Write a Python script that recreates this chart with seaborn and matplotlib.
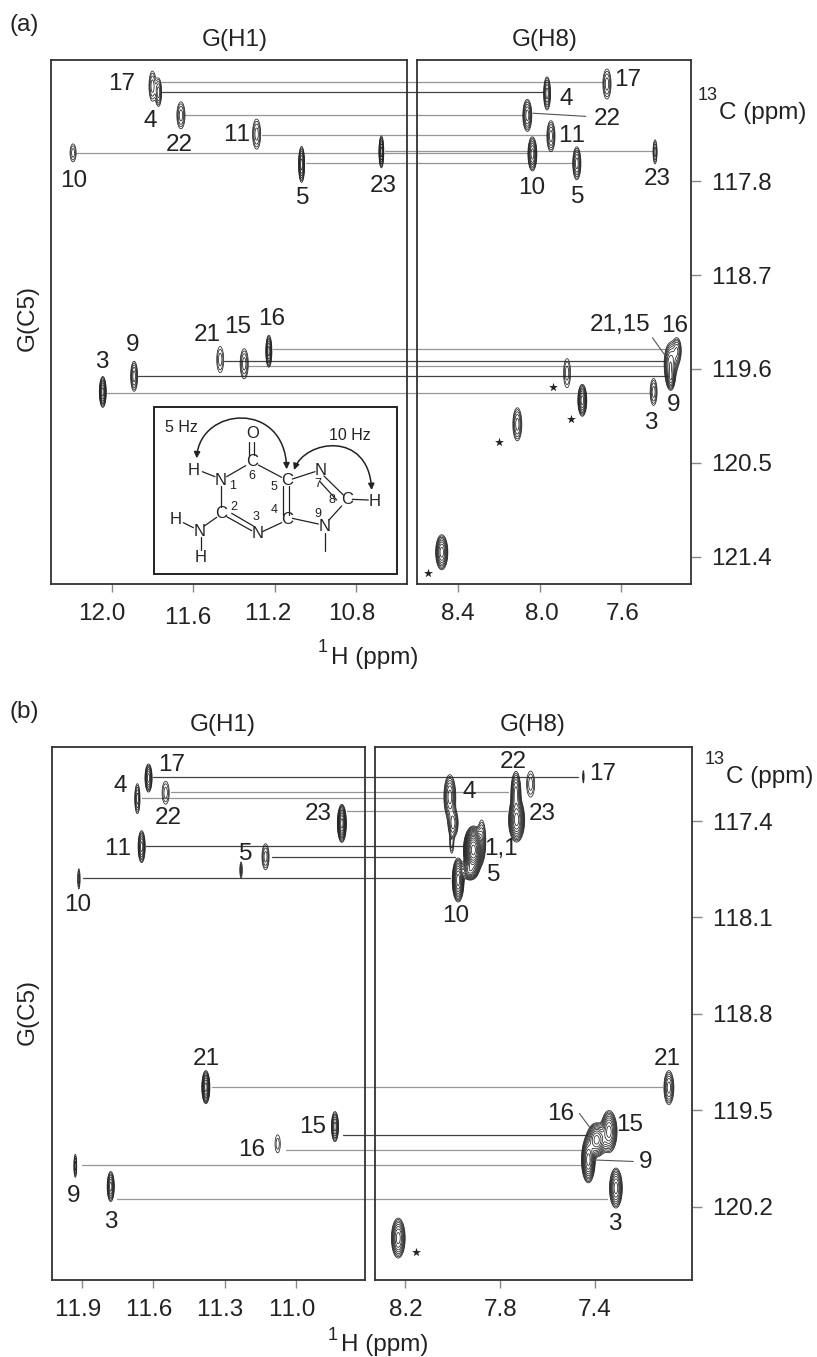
import numpy as np
import matplotlib
matplotlib.use('Agg')
import matplotlib.pyplot as plt
from matplotlib.patches import FancyArrowPatch, Rectangle
from matplotlib.path import Path
from matplotlib.transforms import ScaledTranslation
import seaborn as sns

W, H = 817, 1357

# Panel (a), G(H1) peaks: 17 4 22 11 10 5 23 16 21 15 9 3
a1_x = [11.80, 11.77, 11.66, 11.288, 12.19, 11.067, 10.675, 11.228, 11.467, 11.349, 11.89, 12.044]
a1_y = [116.89, 116.95, 117.17, 117.35, 117.53, 117.64, 117.52, 119.43, 119.51, 119.55, 119.67, 119.82]
a1_wx = [.017, .015, .020, .020, .015, .015, .012, .015, .017, .020, .017, .017]
a1_wy = [.144, .134, .129, .144, .086, .172, .153, .153, .125, .144, .144, .148]
a1_rings = [3, 4, 3, 3, 2, 6, 6, 6, 2, 3, 4, 7]

# Panel (a), G(H8) peaks: 17 4 22 11 10 5 23 16 21/15 cluster 9, unassigned *, 3
a2_x = [7.669, 7.963, 8.06, 7.944, 8.035, 7.817, 7.433, 7.325, 7.351, 7.36, 7.355, 7.865, 7.79, 8.109, 8.48, 7.44]
a2_y = [116.87, 116.96, 117.17, 117.37, 117.54, 117.63, 117.52, 119.42, 119.51, 119.59, 119.69, 119.64, 119.90, 120.13, 121.356, 119.82]
a2_wx = [.020, .017, .022, .020, .022, .020, .010, .020, .030, .025, .017, .017, .022, .022, .030, .017]
a2_wy = [.144, .158, .153, .148, .163, .158, .115, .115, .153, .182, .096, .139, .153, .158, .168, .129]
a2_rings = [3, 5, 5, 4, 6, 5, 3, 4, 4, 5, 5, 2, 7, 4, 7, 3]

# Panel (b), G(H1) peaks: 17 22 4 23 11 5 5' 10 21 15 16 9 3
b1_x = [11.62, 11.548, 11.667, 10.807, 11.649, 11.128, 11.231, 11.913, 11.379, 10.836, 11.077, 11.928, 11.779]
b1_y = [117.088, 117.195, 117.238, 117.417, 117.586, 117.659, 117.755, 117.82, 119.331, 119.617, 119.742, 119.902, 120.052]
b1_wx = [.015, .015, .011, .019, .015, .015, .005, .005, .017, .015, .011, .006, .015]
b1_wy = [.102, .083, .109, .138, .116, .094, .058, .073, .120, .109, .065, .083, .109]
b1_rings = [6, 2, 4, 9, 6, 3, 2, 2, 8, 6, 1, 3, 6]

# Panel (b), G(H8) peaks: 4 (three lobes) 22 23 23' 17 11 11' 10 5 21 15 16 9 3 *
b2_x = [8.011, 7.997, 8.003, 7.733, 7.73, 7.671, 7.449, 7.912, 7.877, 7.976, 7.926, 7.089, 7.341, 7.393, 7.428, 7.312, 8.228]
b2_y = [117.224, 117.415, 117.56, 117.2, 117.393, 117.132, 117.079, 117.61, 117.538, 117.828, 117.755, 119.334, 119.653, 119.713, 119.858, 120.063, 120.426]
b2_wx = [.025, .021, .008, .021, .034, .017, .003, .042, .017, .025, .034, .021, .034, .042, .029, .027, .029]
b2_wy = [.160, .102, .073, .160, .160, .094, .044, .174, .145, .160, .073, .123, .152, .123, .167, .145, .145]
b2_rings = [6, 5, 2, 6, 9, 2, 1, 14, 4, 9, 8, 5, 8, 9, 9, 7, 7]

# Correlation lines: G(H1) end, G(H8) end, shift
a_names = ['17', '4', '22', '11', '10', '23', '5', '16', '21', '15', '9', '3']
a_line_x1 = [11.76, 11.755, 11.641, 11.264, 12.177, 10.657, 11.046, 11.207, 11.449, 11.33, 11.871, 12.023]
a_line_x2 = [7.69, 7.983, 8.081, 7.965, 8.056, 7.449, 7.839, 7.384, 7.384, 7.384, 7.376, 7.458]
a_line_y = [116.85, 116.95, 117.17, 117.36, 117.53, 117.51, 117.63, 119.41, 119.52, 119.57, 119.67, 119.83]
a_dark = ['21', '9', '4']

b_names = ['17', '22', '4', '23', '11', '5', '10', '21', '15', '16', '9', '3']
b_line_x1 = [11.60, 11.527, 11.649, 10.787, 11.632, 11.102, 11.895, 11.354, 10.804, 11.043, 11.899, 11.752]
b_line_x2 = [7.470, 7.765, 8.039, 7.772, 7.955, 7.989, 8.011, 7.119, 7.435, 7.449, 7.463, 7.348]
b_line_y = [117.08, 117.192, 117.23, 117.325, 117.581, 117.663, 117.81, 119.33, 119.68, 119.785, 119.895, 120.14]
b_dark = ['17', '11', '10', '5', '15']

# Asterisks on the G(H8) side
a_star_x = [7.934, 7.844, 8.199, 8.546]
a_star_y = [119.77, 120.08, 120.30, 121.55]
b_star_x = [8.155]
b_star_y = [120.529]

# Tick values
a1_xticks = [12.0, 11.6, 11.2, 10.8]
a2_xticks = [8.4, 8.0, 7.6]
a_yticks = [117.8, 118.7, 119.6, 120.5, 121.4]
b1_xticks = [11.9, 11.6, 11.3, 11.0]
b2_xticks = [8.2, 7.8, 7.4]
b_yticks = [117.4, 118.1, 118.8, 119.5, 120.2]

sns.set_style('ticks')
plt.rcParams['font.family'] = ['Liberation Sans', 'DejaVu Sans']
plt.rcParams['text.kerning_factor'] = 10
FS = 17.5
INK = '#222222'


def px_axes(fig, l, t, r, b):
    ax = fig.add_axes([l / W, 1 - b / H, (r - l) / W, (b - t) / H])
    ax.patch.set_alpha(0)
    for s in ax.spines.values():
        s.set_color('#333333')
        s.set_linewidth(1.3)
    return ax


def put(fig, px, py, s, size=FS, rotation=0):
    # text boxes include the descender, so nudge to centre on the digits
    if rotation:
        px += 2
    else:
        py += 2
    fig.text(px / W, 1 - py / H, s, fontsize=size, ha='center', va='center', color=INK, rotation=rotation)


def draw_peaks(ax, xs, ys, wx, wy, rings):
    # sum of gaussians, outer contour sits at the half widths
    x0, x1 = ax.get_xlim()
    y0, y1 = ax.get_ylim()
    X, Y = np.meshgrid(np.linspace(x0, x1, 1500), np.linspace(y0, y1, 1400))
    Z = np.zeros_like(X)
    ratio = 1.35
    for x, y, a, b, n in zip(xs, ys, wx, wy, rings):
        amp = ratio ** (n + 0.6)
        Z += amp * np.exp(-np.log(amp) * (((X - x) / a) ** 2 + ((Y - y) / b) ** 2))
    levels = ratio ** np.arange(0, 16)
    ax.contour(X, Y, Z, levels=levels, colors=INK, linewidths=0.55)
    ax.set_xlim(x0, x1)
    ax.set_ylim(y0, y1)


def draw_lines(ax1, ax2, names, x1, x2, y, dark):
    for name, a, b, c in zip(names, x1, x2, y):
        disp = ax2.transData.transform((b, c))
        b_in_1 = ax1.transData.inverted().transform(disp)[0]
        col = '#444444' if name in dark else '#969696'
        sns.lineplot(x=[a, b_in_1], y=[c, c], ax=ax1, color=col, lw=0.9, clip_on=False,
                     estimator=None, sort=False, legend=False)


def pointer(ax, xs, ys):
    sns.lineplot(x=xs, y=ys, ax=ax, color='#555555', lw=0.8, estimator=None, sort=False, legend=False)


def style_x(ax, ticks, dx, dy):
    ax.set_xticks(ticks)
    ax.set_xticklabels([f'{t:.1f}' for t in ticks])
    ax.tick_params(axis='x', length=5.4, width=1, color='#888888', labelsize=FS, pad=8.5, labelcolor=INK)
    for lab, a, b in zip(ax.get_xticklabels(), dx, dy):
        lab.set_transform(lab.get_transform() + ScaledTranslation(a / 100, -b / 100, fig.dpi_scale_trans))
    ax.set_xlabel('')
    ax.set_ylabel('')


fig = plt.figure(figsize=(W / 100, H / 100), dpi=100)

# ---- panel (a)
ax_a1 = px_axes(fig, 50.7, 60, 407, 584)
ax_a2 = px_axes(fig, 417.3, 60, 690.7, 584)
ax_a1.set(xlim=(12.30, 10.549), ylim=(121.66, 116.64))
ax_a2.set(xlim=(8.60, 7.258), ylim=(121.66, 116.64))
draw_lines(ax_a1, ax_a2, a_names, a_line_x1, a_line_x2, a_line_y, a_dark)
draw_peaks(ax_a1, a1_x, a1_y, a1_wx, a1_wy, a1_rings)
draw_peaks(ax_a2, a2_x, a2_y, a2_wx, a2_wy, a2_rings)
pointer(ax_a2, [8.032, 7.773], [117.15, 117.18])
pointer(ax_a2, [7.446, 7.384], [119.30, 119.47])
sns.scatterplot(x=a_star_x, y=a_star_y, ax=ax_a2, marker='*', color='#222222', s=45, linewidth=0, legend=False)
style_x(ax_a1, a1_xticks, [-10, -5, -7, -4], [0, 4, 0, 0])
style_x(ax_a2, a2_xticks, [0, 2, 1.5], [0, 0, 0])

# ---- panel (b)
ax_b1 = px_axes(fig, 52, 747, 364.7, 1280)
ax_b2 = px_axes(fig, 375, 747, 691.7, 1280)
ax_b1.set(xlim=(12.026, 10.711), ylim=(120.73, 116.863))
ax_b2.set(xlim=(8.326, 6.993), ylim=(120.73, 116.863))
draw_lines(ax_b1, ax_b2, b_names, b_line_x1, b_line_x2, b_line_y, b_dark)
draw_peaks(ax_b1, b1_x, b1_y, b1_wx, b1_wy, b1_rings)
draw_peaks(ax_b2, b2_x, b2_y, b2_wx, b2_wy, b2_rings)
pointer(ax_b2, [7.466, 7.424], [119.521, 119.618])
pointer(ax_b2, [7.421, 7.239], [119.858, 119.87])
sns.scatterplot(x=b_star_x, y=b_star_y, ax=ax_b2, marker='*', color='#222222', s=45, linewidth=0, legend=False)
style_x(ax_b1, b1_xticks, [-4.5, -5, -4.5, -4], [0, 0, 0, 0])
style_x(ax_b2, b2_xticks, [1, 1, 0], [0, 0, 0])

for ax, ticks in [(ax_a2, a_yticks), (ax_b2, b_yticks)]:
    ax.yaxis.tick_right()
    ax.set_yticks(ticks)
    ax.set_yticklabels([f'{t:.1f}' for t in ticks])
    ax.tick_params(axis='y', length=7, width=1, color='#888888', labelsize=FS, pad=8, labelcolor=INK)
ax_a1.set_yticks([])
ax_b1.set_yticks([])

# ---- panel text, placed in picture pixels
a_labels = [('17', 122, 82), ('4', 150, 119), ('22', 179, 143), ('11', 237, 133), ('10', 74, 179), ('5', 303, 196),
            ('23', 383, 184), ('16', 272, 317), ('15', 238, 325), ('21', 207, 333), ('9', 133, 343), ('3', 102, 360),
            ('17', 628, 78), ('4', 566, 97), ('22', 607, 117), ('11', 572, 134), ('10', 532, 186), ('5', 578, 195),
            ('23', 657, 177), ('21,15', 620, 323), ('16', 675, 324), ('9', 674, 403), ('3', 651, 421)]
b_labels = [('17', 172, 763), ('4', 120, 784), ('22', 168, 816), ('23', 318, 812), ('11', 118, 847), ('5', 246, 852),
            ('10', 78, 903), ('21', 206, 1057), ('15', 313, 1125), ('16', 252, 1148), ('9', 74, 1194), ('3', 111, 1220),
            ('22', 513, 760), ('17', 603, 772), ('4', 469, 790), ('23', 542, 812), ('1,1', 501, 847), ('5', 494, 873),
            ('10', 456, 914), ('21', 667, 1057), ('16', 561, 1112), ('15', 630, 1123), ('9', 646, 1160), ('3', 615, 1222)]
for s, x, y in a_labels + b_labels:
    put(fig, x, y, s)

put(fig, 24, 23, '(a)')
put(fig, 24, 710, '(b)')
put(fig, 235, 38, 'G(H1)')
put(fig, 545, 38, 'G(H8)')
put(fig, 223, 723, 'G(H1)')
put(fig, 533, 723, 'G(H8)')
put(fig, 26, 318, 'G(C5)', rotation=90)
put(fig, 26, 1012, 'G(C5)', rotation=90)
put(fig, 708, 93, '13', size=13)
put(fig, 763, 111, 'C (ppm)')
put(fig, 715, 758, '13', size=13)
put(fig, 770, 775, 'C (ppm)')
put(fig, 323, 645, '1', size=13)
put(fig, 375, 656, 'H (ppm)')
put(fig, 333, 1333, '1', size=13)
put(fig, 385, 1343, 'H (ppm)')

# ---- guanine sketch in the inset
ax_i = fig.add_axes([145 / W, 1 - 580 / H, 260 / W, 180 / H], zorder=5)
ax_i.set(xlim=(0, 780), ylim=(540, 0))
ax_i.axis('off')
ax_i.add_patch(Rectangle((28, 22), 727, 500, fc='white', ec='#222222', lw=1.4))
bonds = [(313, 125, 313, 165), (328, 125, 328, 165), (340, 195, 410, 232), (442, 237, 510, 215), (537, 228, 595, 285),
         (525, 245, 575, 300), (622, 298, 670, 300), (590, 318, 552, 360), (520, 372, 442, 355), (415, 258, 415, 345),
         (432, 258, 432, 345), (410, 368, 352, 395), (320, 392, 245, 350), (325, 378, 260, 340), (228, 322, 228, 258),
         (245, 230, 302, 197), (210, 230, 172, 215), (215, 352, 178, 378), (145, 383, 115, 368), (167, 412, 167, 450),
         (540, 398, 540, 452)]
for x0, y0, x1, y1 in bonds:
    ax_i.plot([x0, x1], [y0, y1], color='#222222', lw=0.9)
atoms = [('O', 322, 100), ('C', 320, 183), ('C', 425, 240), ('N', 528, 210), ('C', 605, 298), ('H', 688, 305),
         ('N', 540, 380), ('C', 425, 360), ('N', 337, 402), ('C', 228, 340), ('N', 228, 240), ('H', 147, 210),
         ('N', 165, 393), ('H', 92, 360), ('H', 168, 472)]
for s, x, y in atoms:
    ax_i.text(x, y, s, fontsize=12, ha='center', va='center', color='#222222')
numbers = [('1', 262, 258), ('2', 265, 320), ('3', 333, 352), ('4', 388, 330), ('5', 388, 262), ('6', 320, 228),
           ('7', 518, 252), ('8', 560, 300), ('9', 518, 342)]
for s, x, y in numbers:
    ax_i.text(x, y, s, fontsize=9, ha='center', va='center', color='#222222')
ax_i.text(110, 82, '5 Hz', fontsize=11.5, ha='center', va='center', color='#222222')
ax_i.text(615, 105, '10 Hz', fontsize=11.5, ha='center', va='center', color='#222222')
curve = [Path.MOVETO, Path.CURVE4, Path.CURVE4, Path.CURVE4]
ax_i.add_patch(FancyArrowPatch(path=Path([(155, 175), (165, 20), (420, 0), (425, 208)], curve), arrowstyle='<|-|>',
                               mutation_scale=9, color='#222222', lw=1.1))
ax_i.add_patch(FancyArrowPatch(path=Path([(447, 210), (480, 120), (670, 90), (680, 270)], curve), arrowstyle='<|-|>',
                               mutation_scale=9, color='#222222', lw=1.1))

fig.savefig('out.png', dpi=100)
